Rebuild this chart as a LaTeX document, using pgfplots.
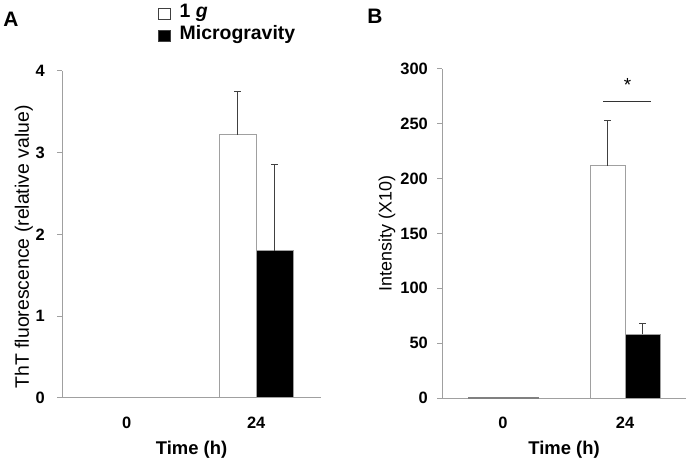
\documentclass[border=0pt]{standalone}
\usepackage{pgfplots}
\pgfplotsset{compat=1.18}
\usepackage{fontspec}
\setmainfont{Liberation Sans}
\definecolor{axgray}{HTML}{A0A0A0}
\definecolor{errgray}{HTML}{404040}
\pgfplotsset{
  panel/.style={
    scale only axis,
    axis lines*=left,
    axis line style={draw=axgray, line width=1bp, -},
    xmin=-0.5, xmax=1.5, ymin=0,
    xtick={0,1}, xticklabels={0,24},
    major x tick style={draw=none},
    tick align=outside,
    major tick length=5bp,
    major y tick style={draw=axgray, line width=1bp},
    ybar=0pt,
    /pgf/number format/assume math mode=true,
    tick label style={font=\fontsize{16.5}{16.5}\selectfont\bfseries},
    xticklabel style={anchor=center, yshift=-20bp},
    xlabel style={font=\fontsize{18.5}{18.5}\selectfont\bfseries, at={(axis description cs:0.5,-0.158)}, anchor=center},
    clip=false,
  },
  errstyle/.style={error bars/.cd, y dir=plus, y explicit,
    error mark=|,
    error bar style={errgray, line width=1.3bp},
    error mark options={errgray, line width=1.3bp, mark size=3.5bp}},
  sq/.style={legend image code/.code={\draw[##1, draw=black!75, line width=0.8bp] (0bp,-5.5bp) rectangle (12bp,5.5bp); \path[draw=none, fill=none] (0bp,0bp) -- (20bp,0bp);}},
}
\begin{document}
\begin{tikzpicture}
\path[use as bounding box] (0,0) rectangle (689bp,462bp);
\node[font=\fontsize{21}{21}\selectfont\bfseries] at (11bp,443bp) {A};
\node[font=\fontsize{21}{21}\selectfont\bfseries] at (375bp,446bp) {B};
% Panel A
\begin{axis}[panel,
  at={(62bp,64bp)}, anchor=south west,
  width=259bp, height=327bp,
  ymax=4, ytick={0,1,2,3,4},
  yticklabel style={anchor=east, inner sep=0pt, xshift=-12bp},
  bar width=37bp,
  xlabel={Time (h)},
  ylabel={ThT fluorescence (relative value)},
  ylabel style={font=\fontsize{19.5}{19.5}\selectfont, at={(axis description cs:-0.147,0.462)}, anchor=center},
  legend style={at={(axis description cs:0.371,1.203)}, anchor=north west, draw=none, fill=none,
    inner sep=0pt, row sep=4bp, font=\fontsize{19.5}{19.5}\selectfont\bfseries,
    nodes={inner sep=1bp, text height=12bp, text depth=4bp}},
  legend cell align=left,
]
\addplot[sq, fill=white, draw=axgray, line width=1bp, bar shift=-18.5bp, errstyle] coordinates {(1,3.22) +- (0,0.53)};
\addlegendentry{1 \textit{g}}
\addplot[sq, fill=black, draw=axgray, line width=1bp, bar shift=18.5bp, errstyle] coordinates {(1,1.80) +- (0,1.06)};
\addlegendentry{Microgravity}
\end{axis}
% Panel B
\begin{axis}[panel,
  at={(442bp,64bp)}, anchor=south west,
  width=244bp, height=329bp,
  ymax=300, ytick={0,50,100,150,200,250,300},
  yticklabel style={anchor=east, inner sep=0pt, xshift=-9bp},
  bar width=35bp,
  xlabel={Time (h)},
  ylabel={Intensity (X10)},
  ylabel style={font=\fontsize{18}{18}\selectfont, at={(axis description cs:-0.225,0.5)}, anchor=center},
]
\addplot[fill=white, draw=axgray, line width=1bp, bar shift=-17.5bp, errstyle] coordinates {(1,212) +- (0,41)};
\addplot[fill=black, draw=axgray, line width=1bp, bar shift=17.5bp, errstyle] coordinates {(1,58) +- (0,10)};
\addplot[fill=white, draw=gray, line width=1bp, bar shift=-17.5bp, forget plot] coordinates {(0,0.5)};
\addplot[fill=black, draw=gray, line width=1bp, bar shift=17.5bp, forget plot] coordinates {(0,0.5)};
\draw[black!80, line width=1bp] (axis cs:0.82,270) -- (axis cs:1.213,270);
\node[font=\fontsize{19}{19}\selectfont] at (axis cs:1.02,285) {*};
\end{axis}
\end{tikzpicture}
\end{document}
